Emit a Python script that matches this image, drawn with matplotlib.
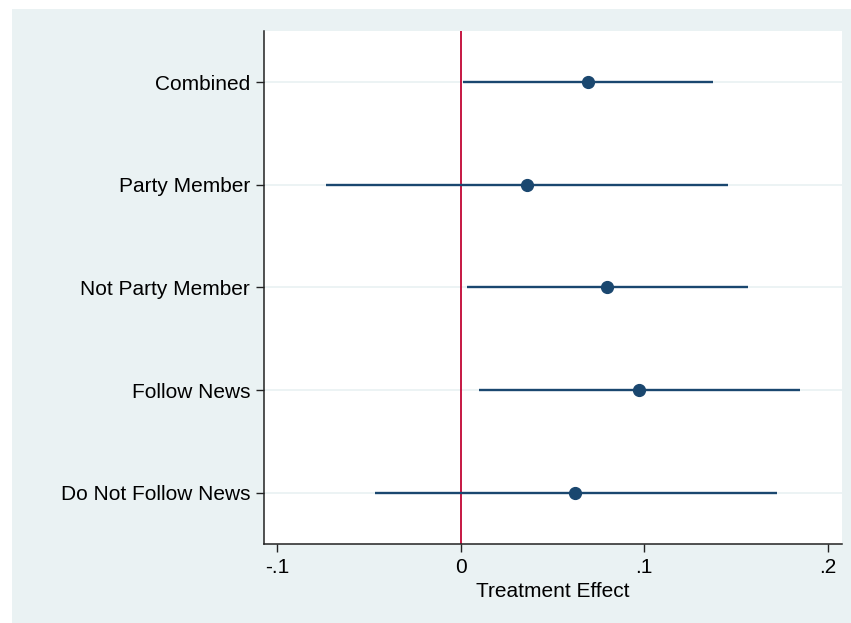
import matplotlib
matplotlib.use("Agg")
import matplotlib.pyplot as plt
from matplotlib.patches import Rectangle

# Estimated treatment effects with 95% confidence intervals
groups = ["Combined", "Party Member", "Not Party Member", "Follow News", "Do Not Follow News"]
estimates = [0.0694, 0.0361, 0.0797, 0.0971, 0.0623]
ci_low = [0.0013, -0.0734, 0.0034, 0.0100, -0.0467]
ci_high = [0.1375, 0.1457, 0.1566, 0.1849, 0.1724]
xticks = [-0.1, 0.0, 0.1, 0.2]
xtick_labels = ["-.1", "0", ".1", ".2"]

plt.rcParams["font.family"] = ["Liberation Sans", "DejaVu Sans"]

navy = "#1a476f"
bg = "#eaf2f3"

fig = plt.figure(figsize=(8.51, 6.23), dpi=100)
fig.patch.set_facecolor("white")
fig.patches.append(Rectangle((12 / 851, 0), 1 - 12 / 851, 1 - 9 / 623,
                             transform=fig.transFigure, facecolor=bg,
                             edgecolor="none", zorder=-10))

ax = fig.add_axes([264 / 851, 79 / 623, (841.7 - 264) / 851, (544 - 31) / 623])
ax.set_zorder(1)
ax.set_facecolor("white")

n = len(groups)
ypos = list(range(n, 0, -1))

for y in ypos:
    ax.axhline(y, color=bg, lw=1.3, zorder=1)

ax.axvline(0, color="#c10534", lw=1.3, zorder=2)

ax.hlines(ypos, ci_low, ci_high, color=navy, lw=1.7, zorder=3)
ax.plot(estimates, ypos, "o", color=navy, ms=8.5, zorder=4)

ax.set_ylim(0.5, n + 0.5)
ax.set_xlim(-0.1072, 0.2076)
ax.set_yticks(ypos)
ax.set_yticklabels(groups, fontsize=15)
ax.set_xticks(xticks)
ax.set_xticklabels(xtick_labels, fontsize=15)
ax.set_xlabel("Treatment Effect", fontsize=15, labelpad=4)

for s in ["top", "right"]:
    ax.spines[s].set_visible(False)
for s in ["left", "bottom"]:
    ax.spines[s].set_color("#222222")
    ax.spines[s].set_linewidth(1.1)
ax.tick_params(axis="both", length=6, width=1, color="#222222", pad=4)

fig.savefig("out.png", dpi=100, facecolor=fig.get_facecolor())
